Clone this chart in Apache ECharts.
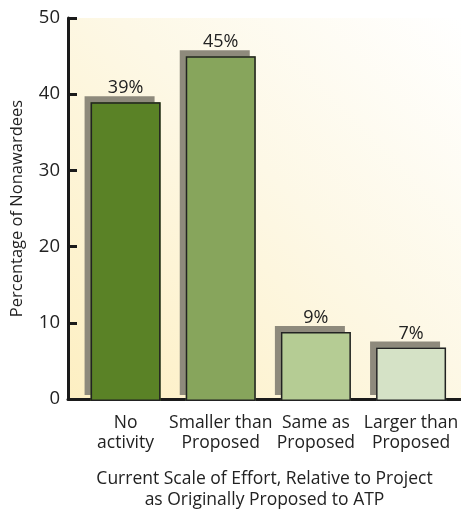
<!DOCTYPE html>
<html>
<head>
<meta charset="utf-8">
<script src="https://cdn.jsdelivr.net/npm/echarts@6/dist/echarts.min.js"></script>
<style>
  html, body { margin: 0; padding: 0; background: #fff; }
  #main { width: 461px; height: 516px; }
</style>
</head>
<body>
<div id="main"></div>
<script>
// 数据
var categories = ['No\nactivity', 'Smaller than\nProposed', 'Same as\nProposed', 'Larger than\nProposed']
var values = [39, 45, 9, 7]
var barColors = ['#5a8226', '#87a55c', '#b5cc94', '#d5e2c6']
var yTicks = [0, 10, 20, 30, 40, 50]

var font = '"Open Sans", "Noto Sans", sans-serif'
var ink = '#222'

var myChart = echarts.init(document.getElementById('main'))
var option = {
  animation: false,
  grid: [
    {
      // 坐标轴 + 背景
      left: 68, right: 0, top: 18, bottom: 115,
      show: true,
      borderWidth: 0,
      backgroundColor: new echarts.graphic.LinearGradient(0, 1, 1, 0, [
        { offset: 0, color: '#fdefc2' },
        { offset: 0.55, color: '#fdf8e6' },
        { offset: 1, color: '#ffffff' }
      ])
    },
    // 柱子
    { left: 78, right: 0, top: 18, bottom: 115 }
  ],
  xAxis: [
    {
      gridIndex: 0,
      type: 'value',
      min: 0, max: 1,
      axisLine: { show: true, lineStyle: { color: '#1a1a1a', width: 3 } },
      axisTick: { show: false },
      axisLabel: { show: false },
      splitLine: { show: false },
      name: 'Current Scale of Effort, Relative to Project\nas Originally Proposed to ATP',
      nameLocation: 'middle',
      nameGap: 70,
      nameTextStyle: { fontFamily: font, fontSize: 17.5, color: ink, lineHeight: 21 }
    },
    {
      gridIndex: 1,
      type: 'category',
      data: categories,
      axisLine: { show: false },
      axisTick: { show: false },
      axisLabel: { interval: 0, margin: 12, fontFamily: font, fontSize: 17.5, color: ink, lineHeight: 20 }
    }
  ],
  yAxis: [
    {
      gridIndex: 0,
      type: 'value',
      min: yTicks[0],
      max: yTicks[yTicks.length - 1],
      interval: 10,
      axisLine: { show: true, lineStyle: { color: '#1a1a1a', width: 3 } },
      axisTick: { show: true, inside: true, length: 9, lineStyle: { color: '#1a1a1a', width: 3 } },
      axisLabel: { margin: 8, fontFamily: font, fontSize: 18.5, color: ink },
      splitLine: { show: false },
      name: 'Percentage of Nonawardees',
      nameLocation: 'middle',
      nameGap: 42,
      nameTextStyle: { fontFamily: font, fontSize: 16.5, color: ink }
    },
    {
      gridIndex: 1,
      type: 'value',
      min: 0, max: 50,
      show: false
    }
  ],
  series: [
    {
      // 阴影
      type: 'bar',
      xAxisIndex: 1,
      yAxisIndex: 1,
      barWidth: 70,
      data: values.map(function (v, i) {
        return { value: v, itemStyle: { color: barColors[i] } }
      }),
      itemStyle: {
        shadowColor: '#8e8a7c',
        shadowOffsetX: -6,
        shadowOffsetY: -6,
        shadowBlur: 0
      }
    },
    {
      // 边框 + 标签
      type: 'bar',
      xAxisIndex: 1,
      yAxisIndex: 1,
      barWidth: 70,
      barGap: '-100%',
      data: values,
      itemStyle: {
        color: 'rgba(0,0,0,0)',
        borderColor: '#222',
        borderWidth: 1.5
      },
      label: {
        show: true,
        position: 'top',
        distance: 5,
        formatter: '{c}%',
        fontFamily: font,
        fontSize: 18,
        color: ink
      }
    }
  ]
}
myChart.setOption(option)
</script>
</body>
</html>
